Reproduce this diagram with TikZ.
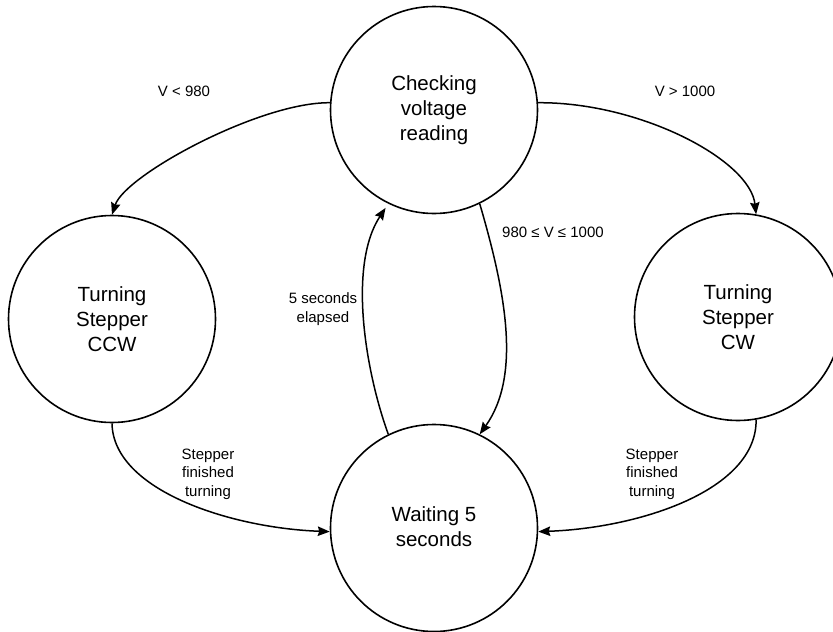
\documentclass[tikz,border=0pt]{standalone}
\usepackage{fontspec}
\setmainfont{Liberation Sans}
\usetikzlibrary{arrows.meta}
\begin{document}
\begin{tikzpicture}[x=1pt,y=-1pt,
  state/.style={circle,draw,line width=1.6pt,minimum size=207pt,inner sep=0pt,align=center,font=\fontsize{20.5}{25}\selectfont},
  lbl/.style={align=center,font=\fontsize{15}{18.5}\selectfont},
  conn/.style={line width=1.5pt,-{Stealth[length=12pt,width=9.5pt,inset=1.5pt]}}]
\useasboundingbox (0,0) rectangle (833,632);
\node[state] (top) at (434,110) {Checking\\voltage\\reading};
\node[state] (ccw) at (112,319) {Turning\\Stepper\\CCW};
\node[state] (cw) at (738,317) {Turning\\Stepper\\CW};
\node[state,text depth=3pt] (wait) at (434,528) {Waiting 5\\seconds};
\node[lbl] (l1) at (184,91) {V < 980};
\node[lbl] (l2) at (685,91) {V > 1000};
\node[lbl] (l3) at (553,232) {980 ≤ V ≤ 1000};
\node[lbl] (l4) at (323,309) {5 seconds\\elapsed};
\node[lbl] (l5) at (208,474) {Stepper\\finished\\turning};
\node[lbl] (l6) at (652,474) {Stepper\\finished\\turning};
\draw[conn] (top.176) .. controls (260,102) and (125,175) .. (ccw.north);
\draw[conn] (top.4) .. controls (640,102) and (750,160) .. (cw.80);
\draw[conn] (top.-64) .. controls (505,290) and (522,375) .. (wait.64);
\draw[conn,shorten >=5pt] (wait.116) .. controls (365,370) and (348,265) .. (top.-116);
\draw[conn] (ccw.south) .. controls (113,490) and (230,528) .. (wait.182);
\draw[conn] (cw.-80) .. controls (757,490) and (640,528) .. (wait.-2);
\end{tikzpicture}
\end{document}
